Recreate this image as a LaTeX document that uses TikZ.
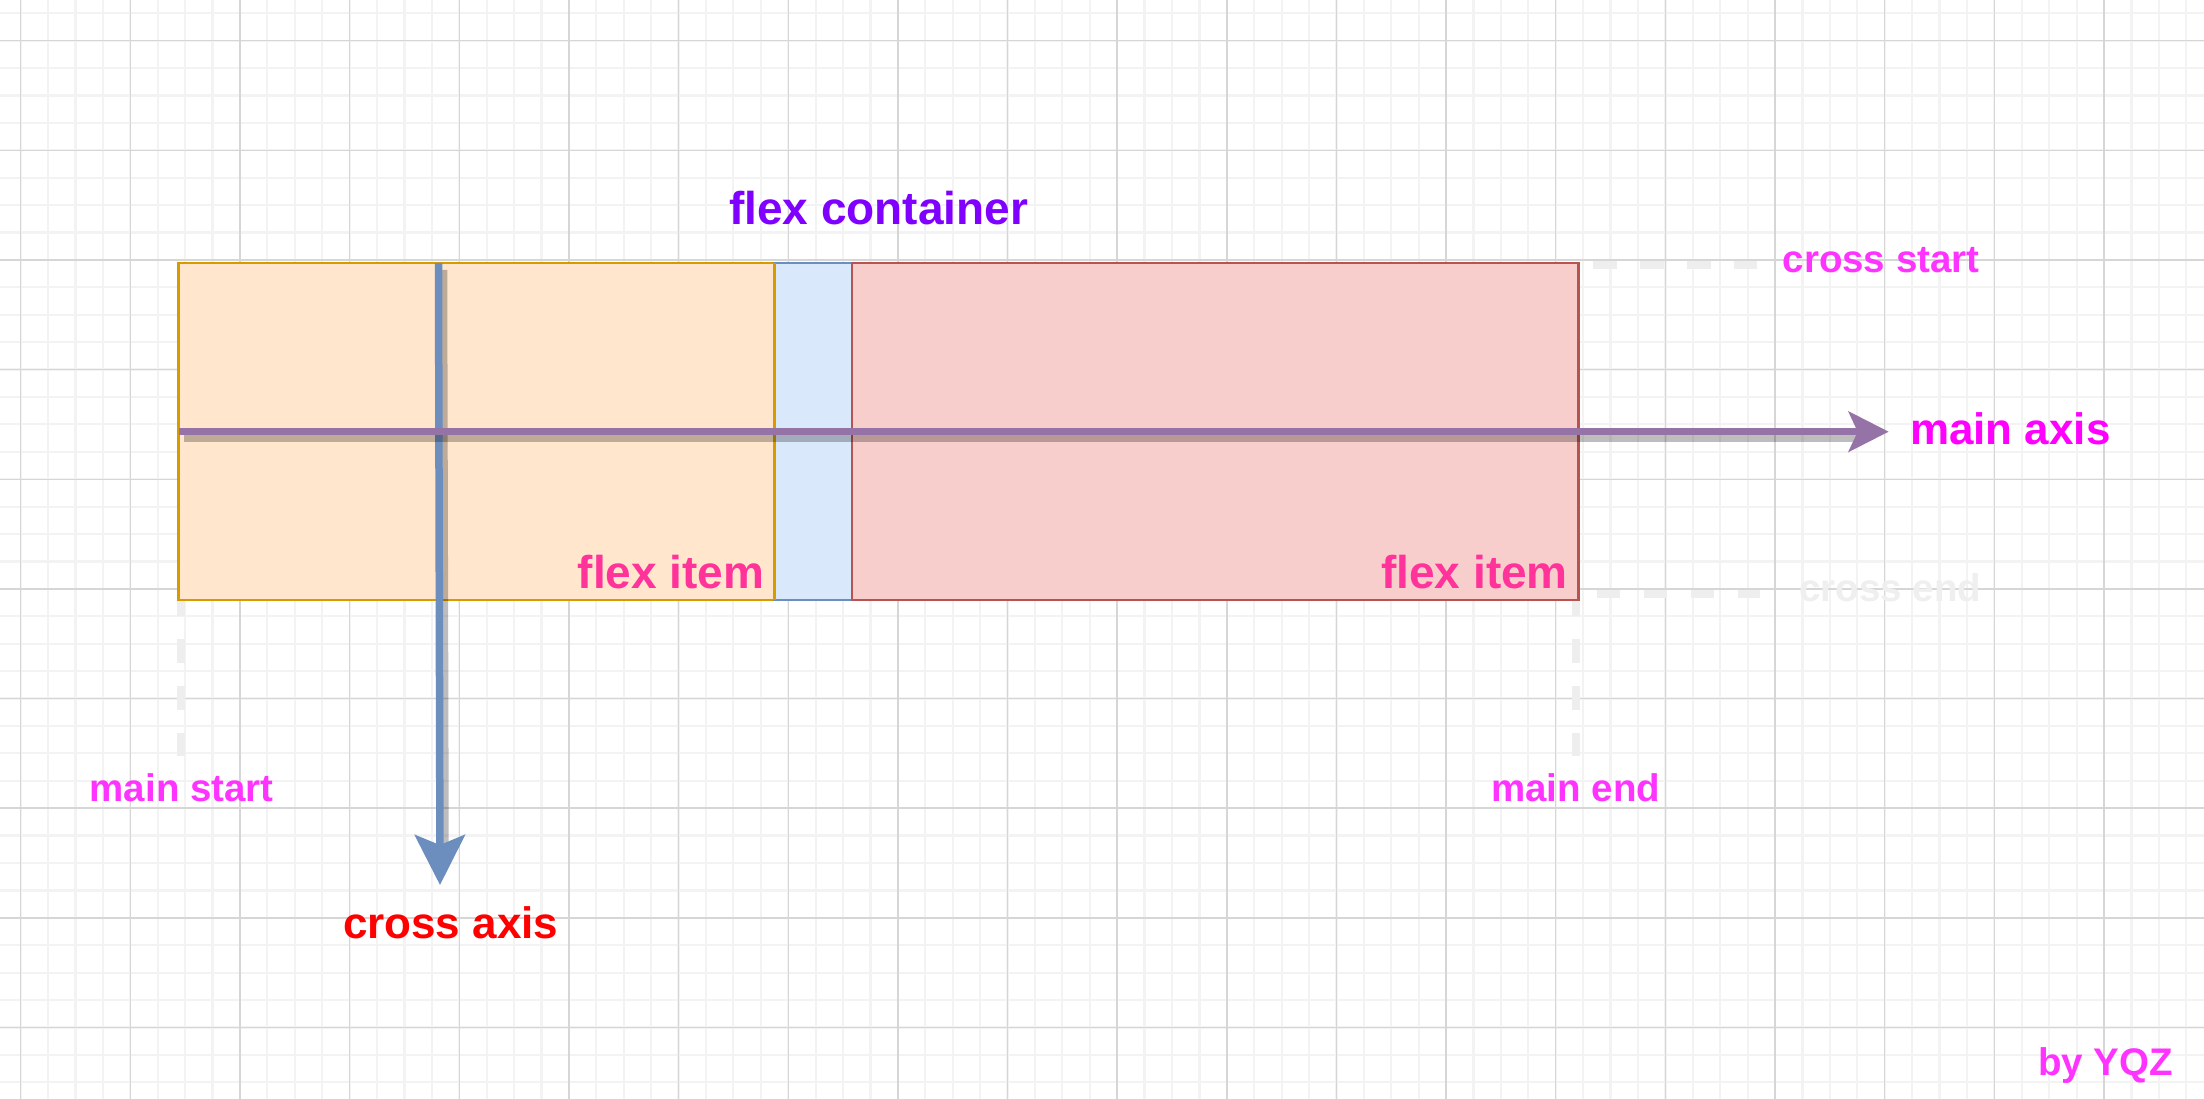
\documentclass[tikz,border=0pt]{standalone}
\usepackage{fontspec}
\setmainfont{Liberation Sans}
\usetikzlibrary{arrows.meta}
\definecolor{gridminor}{HTML}{F3F3F3}
\definecolor{gridmajor}{HTML}{D6D6D6}
\definecolor{orfill}{HTML}{FFE6CC}
\definecolor{orline}{HTML}{D79B00}
\definecolor{blfill}{HTML}{DAE8FC}
\definecolor{blline}{HTML}{6C8EBF}
\definecolor{rdfill}{HTML}{F8CECC}
\definecolor{rdline}{HTML}{B85450}
\definecolor{purpaxis}{HTML}{9673A6}
\definecolor{fctext}{HTML}{7F00FF}
\definecolor{fitext}{HTML}{FF3399}
\definecolor{matext}{HTML}{FF00FF}
\definecolor{smtext}{HTML}{FF33FF}
\definecolor{catext}{HTML}{FF0000}
\definecolor{dashgray}{HTML}{EEEEEE}
\definecolor{cetext}{HTML}{EFEFEF}
\newcommand\figbig{\bfseries\fontsize{46pt}{46pt}\selectfont}
\newcommand\figmid{\bfseries\fontsize{44pt}{44pt}\selectfont}
\newcommand\figsmall{\bfseries\fontsize{38.5pt}{38.5pt}\selectfont}
\begin{document}
\begin{tikzpicture}[x=1pt,y=-1pt,
  lbl/.style={inner sep=0pt, outer sep=0pt},
  itembox/.style={draw, line width=2.8pt, minimum width=#1, minimum height=337pt, anchor=north west, inner sep=0pt, outer sep=0pt},
  dashline/.style={draw=dashgray, line width=7.7pt, dash pattern=on 23.5pt off 23.5pt},
  axisshadow/.style={draw=black, opacity=0.26, line width=7.5pt},
  mainaxisline/.style={draw=purpaxis, line width=7.5pt, -{Stealth[length=40pt,width=40pt,inset=9pt]}},
  crossaxisline/.style={draw=blline, line width=7.5pt, -{Stealth[length=50pt,width=50pt,inset=10pt]}}
]
\useasboundingbox (0,0) rectangle (2204,1099);
\fill[white] (0,0) rectangle (2204,1099);
% grid
\foreach \i in {0,...,81} {
  \draw[gridminor, line width=2.2pt] ({20.65+27.4125*\i},0) -- ({20.65+27.4125*\i},1099);
}
\foreach \i in {-1,...,40} {
  \draw[gridminor, line width=2.2pt] (0,{13.2+27.4125*\i}) -- (2204,{13.2+27.4125*\i});
}
\foreach \i in {0,...,20} {
  \draw[gridmajor, line width=1.4pt] ({20.65+109.65*\i},0) -- ({20.65+109.65*\i},1099);
}
\foreach \i in {0,...,9} {
  \draw[gridmajor, line width=1.4pt] (0,{40.6+109.65*\i}) -- (2204,{40.6+109.65*\i});
}
% dashed guide lines
\coordinate (csA) at (1593,265);
\coordinate (csB) at (1757,265);
\coordinate (ceA) at (1596.7,594.3);
\coordinate (ceB) at (1760,594.3);
\coordinate (msA) at (181,592);
\coordinate (msB) at (181,756);
\coordinate (meA) at (1575.7,592);
\coordinate (meB) at (1575.7,756);
\draw[dashline] (csA) -- (csB);
\draw[dashline] (ceA) -- (ceB);
\draw[dashline] (msA) -- (msB);
\draw[dashline] (meA) -- (meB);
% boxes
\node[itembox=596pt, fill=orfill, draw=orline] (orange) at (178.5,263) {};
\node[itembox=77.5pt, fill=blfill, draw=blline] (blue) at (774.5,263) {};
\node[itembox=726.5pt, fill=rdfill, draw=rdline] (red) at (852,263) {};
\draw[orline, line width=2.8pt] (orange.north east) -- (orange.south east);
% axes
\coordinate (caS) at (438.5,263);
\coordinate (caE) at (440,885);
\coordinate (caSs) at (443.5,270);
\coordinate (caEs) at (445,846);
\coordinate (maS) at (178.5,431.7);
\coordinate (maE) at (1888.7,431.7);
\coordinate (maSs) at (183.5,438.7);
\coordinate (maEs) at (1857,438.7);
\draw[axisshadow] (caSs) -- (caEs);
\draw[crossaxisline] (caS) -- (caE);
\draw[axisshadow] (maSs) -- (maEs);
\draw[mainaxisline] (maS) -- (maE);
% labels
\node[lbl, font=\figbig, text=fctext, anchor=base] (fc) at (878.7,225) {flex container};
\node[lbl, font=\figbig, text=fitext, anchor=base east] (fi1) at (764.5,588.3) {flex item};
\node[lbl, font=\figbig, text=fitext, anchor=base east] (fi2) at (1567.9,588) {flex item};
\node[lbl, font=\figmid, text=matext, anchor=base west] (mainaxis) at (1910,444) {main axis};
\node[lbl, font=\figsmall, text=smtext, anchor=base east] (cs) at (1979.5,272.7) {cross start};
\node[lbl, font=\figsmall, text=cetext, anchor=base east] (ce) at (1981.2,601.7) {cross end};
\node[lbl, font=\figsmall, text=smtext, anchor=base] (ms) at (181.7,801.7) {main start};
\node[lbl, font=\figsmall, text=smtext, anchor=base] (me) at (1575.8,801.7) {main end};
\node[lbl, font=\figmid, text=catext, anchor=base] (ca) at (450.7,938.3) {cross axis};
\node[lbl, font=\figsmall, text=smtext, anchor=base east] (by) at (2172.9,1075) {by YQZ};
\end{tikzpicture}
\end{document}
